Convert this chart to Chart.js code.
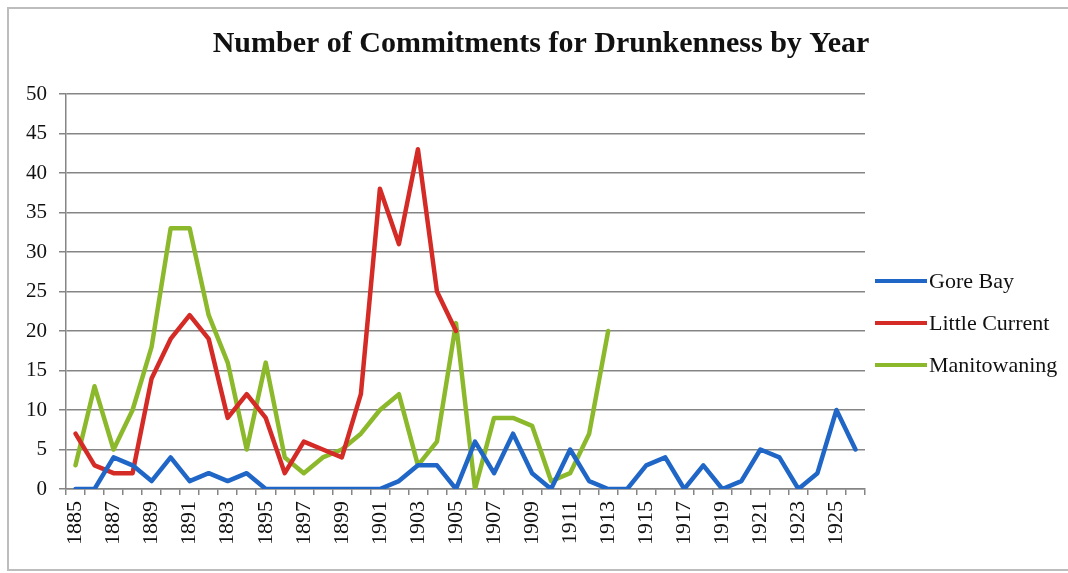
<!DOCTYPE html>
<html>
<head>
<meta charset="utf-8">
<title>Commitments for Drunkenness</title>
<script src="https://cdn.jsdelivr.net/npm/chart.js@4.4.1/dist/chart.umd.min.js"></script>
<style>
  html, body { margin: 0; padding: 0; background: #fff; overflow: hidden; }
  #wrap { position: relative; width: 1068px; height: 573px; overflow: hidden; }
  #frame {
    position: absolute; left: 7px; top: 7px; width: 1061px; height: 564px;
    border: 2px solid #bdbdbd; border-right: none; box-sizing: border-box;
  }
  #chart { position: absolute; left: 0; top: 0; }
  #legend {
    position: absolute; left: 875px; top: 260px;
    font-family: "Liberation Serif", "Times New Roman", serif; font-size: 22px; color: #111;
  }
  .item { height: 42px; display: flex; align-items: center; }
  .swatch { width: 52px; height: 4px; margin-right: 2px; }
</style>
</head>
<body>
<div id="wrap">
  <div id="frame"></div>
  <canvas id="chart" width="1068" height="573"></canvas>
  <div id="legend"></div>
</div>
<script>
const years = [];
for (let y = 1885; y <= 1926; y++) years.push(String(y));

// Gore Bay 1885-1926
const goreBay = [0, 0, 4, 3, 1, 4, 1, 2, 1, 2, 0, 0, 0, 0, 0, 0, 0, 1, 3, 3, 0,
  6, 2, 7, 2, 0, 5, 1, 0, 0, 3, 4, 0, 3, 0, 1, 5, 4, 0, 2, 10, 5];

// Little Current 1885-1905
const littleCurrent = [7, 3, 2, 2, 14, 19, 22, 19, 9, 12, 9, 2, 6, 5, 4, 12, 38, 31, 43, 25, 20];

// Manitowaning 1885-1913
const manitowaning = [3, 13, 5, 10, 18, 33, 33, 22, 16, 5, 16, 4, 2, 4, 5, 7, 10, 12, 3, 6, 21,
  0, 9, 9, 8, 1, 2, 7, 20];

const seriesNames = ["Gore Bay", "Little Current", "Manitowaning"];
const seriesColors = ["#1f66c6", "#d42b27", "#8cb92c"];

const serif = "'Liberation Serif', 'Times New Roman', serif";
const gridGray = "#858585";

function lineSet(i, values) {
  return {
    label: seriesNames[i],
    data: values,
    borderColor: seriesColors[i],
    backgroundColor: seriesColors[i],
    borderWidth: 4.5,
    pointRadius: 0,
    tension: 0,
    borderJoinStyle: "round",
    borderCapStyle: "round",
    fill: false
  };
}

const chart = new Chart(document.getElementById("chart").getContext("2d"), {
  type: "line",
  data: {
    labels: years,
    datasets: [
      lineSet(0, goreBay),
      lineSet(1, littleCurrent),
      lineSet(2, manitowaning)
    ]
  },
  options: {
    responsive: false,
    animation: false,
    layout: { padding: { left: 14, right: 0, top: 0, bottom: 22 } },
    plugins: {
      legend: { display: false },
      tooltip: { enabled: false },
      title: {
        display: true,
        text: "Number of Commitments for Drunkenness by Year",
        color: "#111",
        font: { family: serif, size: 30, weight: "bold" },
        padding: { top: 26, bottom: 32 }
      }
    },
    scales: {
      x: {
        type: "category",
        offset: true,
        grid: {
          offset: true,
          drawOnChartArea: false,
          drawTicks: true,
          tickLength: 6,
          color: gridGray,
          lineWidth: 1.5
        },
        border: { color: gridGray, width: 1.5 },
        ticks: {
          autoSkip: false,
          maxRotation: 90,
          minRotation: 90,
          padding: 6,
          color: "#111",
          font: { family: serif, size: 22 },
          // every other year gets a label
          callback: (v, i) => (i % 2 === 0 ? years[i] : "")
        }
      },
      y: {
        min: 0,
        max: 50,
        ticks: {
          stepSize: 5,
          padding: 12,
          color: "#111",
          font: { family: serif, size: 21 }
        },
        grid: { color: gridGray, lineWidth: 1.5, tickLength: 7 },
        border: { color: gridGray, width: 1.5 }
      },
      // blank axis that reserves room for the legend on the right
      legendSpace: {
        position: "right",
        display: true,
        grid: { display: false },
        border: { display: false },
        ticks: { display: false },
        afterFit: (scale) => { scale.width = 203; }
      }
    }
  }
});

// legend built from the chart's own datasets
const legendBox = document.getElementById("legend");
chart.data.datasets.forEach((ds) => {
  const row = document.createElement("div");
  row.className = "item";
  const sw = document.createElement("span");
  sw.className = "swatch";
  sw.style.background = ds.borderColor;
  const txt = document.createElement("span");
  txt.textContent = ds.label;
  row.appendChild(sw);
  row.appendChild(txt);
  legendBox.appendChild(row);
});
</script>
</body>
</html>
